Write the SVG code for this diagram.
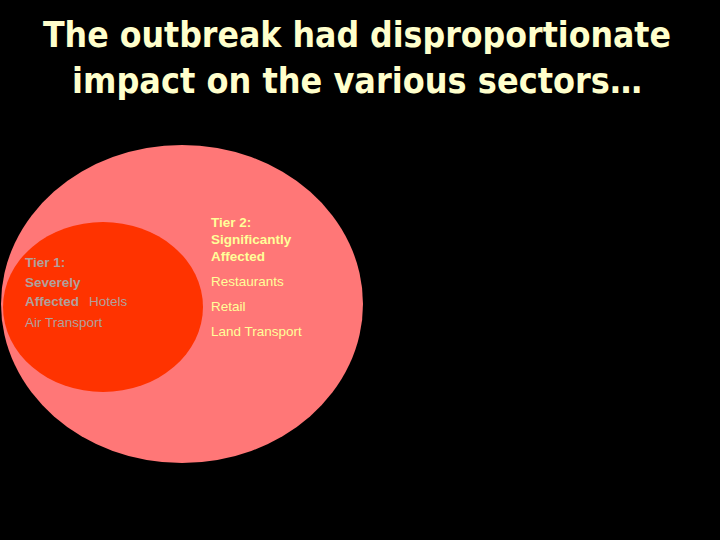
<svg xmlns="http://www.w3.org/2000/svg" width="720" height="540" viewBox="0 0 720 540">
<style>
.title{font-family:"DejaVu Sans Condensed","DejaVu Sans",sans-serif;font-stretch:condensed;font-weight:bold;font-size:36px;fill:#FFFFCC;text-anchor:middle}
.t1{font-family:"Liberation Sans",Arial,sans-serif;font-size:13.5px;fill:#B0A09C}
.t2{font-family:"Liberation Sans",Arial,sans-serif;font-size:13.5px;fill:#FFFF99}
.b{font-weight:bold}
</style>
<rect width="720" height="540" fill="#000"/>
<text class="title" x="357" y="47" textLength="628" lengthAdjust="spacingAndGlyphs">The outbreak had disproportionate</text>
<text class="title" x="357" y="93" textLength="570" lengthAdjust="spacingAndGlyphs">impact on the various sectors…</text>
<g id="tier2">
<ellipse cx="182" cy="304" rx="181" ry="159" fill="#FF7777"/>
<text class="t2 b" x="211" y="227">Tier 2:</text>
<text class="t2 b" x="211" y="244">Significantly</text>
<text class="t2 b" x="211" y="261">Affected</text>
<text class="t2" x="211" y="286">Restaurants</text>
<text class="t2" x="211" y="311">Retail</text>
<text class="t2" x="211" y="336">Land Transport</text>
</g>
<g id="tier1">
<ellipse cx="103" cy="307" rx="100" ry="85" fill="#FF3300"/>
<text class="t1 b" x="25" y="267">Tier 1:</text>
<text class="t1 b" x="25" y="287">Severely</text>
<text class="t1 b" x="25" y="306">Affected</text>
<text class="t1" x="89" y="306">Hotels</text>
<text class="t1" x="25" y="327">Air Transport</text>
</g>
<g id="connectors"/>
</svg>
